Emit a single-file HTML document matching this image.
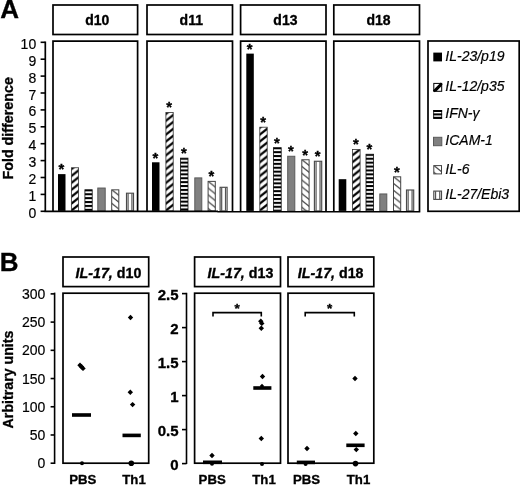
<!DOCTYPE html>
<html><head><meta charset="utf-8"><title>Figure</title>
<style>html,body{margin:0;padding:0;background:#fff;}body{width:520px;height:486px;overflow:hidden;}svg{display:block;filter:blur(0.35px);}text{font-family:"Liberation Sans",sans-serif;fill:#000;stroke:#000;stroke-width:0.18px;}text[font-weight="bold"]{stroke-width:0.32px;}</style>
</head><body>
<svg width="520" height="486" viewBox="0 0 520 486">
<defs>
<pattern id="p12" patternUnits="userSpaceOnUse" width="8.6" height="6.9"><rect width="8.6" height="6.9" fill="#fff"/><path d="M-8.6 13.8 L17.2 -6.9 M-8.6 6.9 L17.2 -13.8 M-8.6 20.7 L17.2 0" stroke="#000" stroke-width="2.15" fill="none"/></pattern>
<pattern id="pifn" patternUnits="userSpaceOnUse" width="10" height="3.9"><rect width="10" height="3.9" fill="#fff"/><rect y="0" width="10" height="2.05" fill="#000"/></pattern>
<pattern id="p6" patternUnits="userSpaceOnUse" width="8.6" height="6.8"><rect width="8.6" height="6.8" fill="#fff"/><path d="M-8.6 -6.8 L17.2 13.6 M-8.6 0 L17.2 20.4 M-8.6 -13.6 L17.2 6.8" stroke="#444" stroke-width="1.3" fill="none"/></pattern>
</defs>
<rect width="520" height="486" fill="#fff"/>
<text x="0.2" y="18.4" font-size="26" font-weight="bold">A</text>
<rect x="53" y="5" width="84.6" height="29.5" fill="#fff" stroke="#000" stroke-width="1.7"/>
<text x="97.2" y="25.1" font-size="14" font-weight="bold" text-anchor="middle">d10</text>
<path d="M53 211.3 V41.2 H137.6 V211.3" fill="none" stroke="#000" stroke-width="1.7"/>
<rect x="147" y="5" width="85.5" height="29.5" fill="#fff" stroke="#000" stroke-width="1.7"/>
<text x="191.3" y="25.1" font-size="14" font-weight="bold" text-anchor="middle">d11</text>
<path d="M147 211.3 V41.2 H232.5 V211.3" fill="none" stroke="#000" stroke-width="1.7"/>
<rect x="240.6" y="5" width="85.4" height="29.5" fill="#fff" stroke="#000" stroke-width="1.7"/>
<text x="285.4" y="25.1" font-size="14" font-weight="bold" text-anchor="middle">d13</text>
<path d="M240.6 211.3 V41.2 H326 V211.3" fill="none" stroke="#000" stroke-width="1.7"/>
<rect x="333.8" y="5" width="85.7" height="29.5" fill="#fff" stroke="#000" stroke-width="1.7"/>
<text x="378.5" y="25.1" font-size="14" font-weight="bold" text-anchor="middle">d18</text>
<path d="M333.8 211.3 V41.2 H419.5 V211.3" fill="none" stroke="#000" stroke-width="1.7"/>
<path d="M45.3 41.5 V211.3" stroke="#000" stroke-width="1.7" fill="none"/>
<path d="M40.6 211.30 H45.3" stroke="#000" stroke-width="1.6"/>
<text x="36.2" y="217.80" font-size="14" text-anchor="end">0</text>
<path d="M40.6 194.40 H45.3" stroke="#000" stroke-width="1.6"/>
<text x="36.2" y="200.90" font-size="14" text-anchor="end">1</text>
<path d="M40.6 177.50 H45.3" stroke="#000" stroke-width="1.6"/>
<text x="36.2" y="184.00" font-size="14" text-anchor="end">2</text>
<path d="M40.6 160.60 H45.3" stroke="#000" stroke-width="1.6"/>
<text x="36.2" y="167.10" font-size="14" text-anchor="end">3</text>
<path d="M40.6 143.70 H45.3" stroke="#000" stroke-width="1.6"/>
<text x="36.2" y="150.20" font-size="14" text-anchor="end">4</text>
<path d="M40.6 126.80 H45.3" stroke="#000" stroke-width="1.6"/>
<text x="36.2" y="133.30" font-size="14" text-anchor="end">5</text>
<path d="M40.6 109.90 H45.3" stroke="#000" stroke-width="1.6"/>
<text x="36.2" y="116.40" font-size="14" text-anchor="end">6</text>
<path d="M40.6 93.00 H45.3" stroke="#000" stroke-width="1.6"/>
<text x="36.2" y="99.50" font-size="14" text-anchor="end">7</text>
<path d="M40.6 76.10 H45.3" stroke="#000" stroke-width="1.6"/>
<text x="36.2" y="82.60" font-size="14" text-anchor="end">8</text>
<path d="M40.6 59.20 H45.3" stroke="#000" stroke-width="1.6"/>
<text x="36.2" y="65.70" font-size="14" text-anchor="end">9</text>
<path d="M40.6 42.30 H45.3" stroke="#000" stroke-width="1.6"/>
<text x="36.2" y="48.80" font-size="14" text-anchor="end">10</text>
<text transform="translate(13.0,128.3) rotate(-90)" font-size="14.3" font-weight="bold" text-anchor="middle">Fold difference</text>
<rect x="58.00" y="174.12" width="7.50" height="36.78" fill="#000"/>
<text x="61.45" y="174.46" font-size="14.8" font-weight="bold" text-anchor="middle">*</text>
<g transform="translate(71.00,210.90)"><rect x="0.4" y="-43.14" width="7.20" height="43.14" fill="url(#p12)" stroke="#333" stroke-width="0.8"/></g>
<g transform="translate(84.50,189.33)"><rect x="0.4" y="0.4" width="7.30" height="21.17" fill="url(#pifn)" stroke="#111" stroke-width="0.8"/></g>
<rect x="97.80" y="188.04" width="7.40" height="22.86" fill="#808080" stroke="#5a5a5a" stroke-width="1"/>
<g transform="translate(111.20,189.33)"><rect x="0.5" y="0.5" width="7.10" height="21.07" fill="url(#p6)" stroke="#444" stroke-width="1"/></g>
<rect x="126.50" y="193.21" width="7.00" height="17.69" fill="#fff" stroke="#4a4a4a" stroke-width="1.15"/><path d="M128.08 193.21 V210.90" stroke="#555" stroke-width="1.2"/><path d="M131.92 193.21 V210.90" stroke="#555" stroke-width="1.2"/>
<rect x="152.00" y="162.29" width="7.50" height="48.61" fill="#000"/>
<text x="155.45" y="162.63" font-size="14.8" font-weight="bold" text-anchor="middle">*</text>
<g transform="translate(165.50,210.90)"><rect x="0.4" y="-98.40" width="7.30" height="98.40" fill="url(#p12)" stroke="#333" stroke-width="0.8"/></g>
<text x="169.25" y="112.44" font-size="14.8" font-weight="bold" text-anchor="middle">*</text>
<g transform="translate(180.00,157.73)"><rect x="0.4" y="0.4" width="7.60" height="52.77" fill="url(#pifn)" stroke="#111" stroke-width="0.8"/></g>
<text x="183.90" y="158.07" font-size="14.8" font-weight="bold" text-anchor="middle">*</text>
<rect x="194.80" y="177.90" width="7.00" height="33.00" fill="#808080" stroke="#5a5a5a" stroke-width="1"/>
<g transform="translate(207.60,180.88)"><rect x="0.5" y="0.5" width="7.20" height="29.52" fill="url(#p6)" stroke="#444" stroke-width="1"/></g>
<text x="211.40" y="181.22" font-size="14.8" font-weight="bold" text-anchor="middle">*</text>
<rect x="220.10" y="187.30" width="7.00" height="23.60" fill="#fff" stroke="#4a4a4a" stroke-width="1.15"/><path d="M221.68 187.30 V210.90" stroke="#555" stroke-width="1.2"/><path d="M225.52 187.30 V210.90" stroke="#555" stroke-width="1.2"/>
<rect x="246.30" y="53.62" width="7.50" height="157.28" fill="#000"/>
<text x="249.75" y="53.97" font-size="14.8" font-weight="bold" text-anchor="middle">*</text>
<g transform="translate(259.40,210.90)"><rect x="0.4" y="-83.70" width="7.40" height="83.70" fill="url(#p12)" stroke="#333" stroke-width="0.8"/></g>
<text x="263.20" y="127.14" font-size="14.8" font-weight="bold" text-anchor="middle">*</text>
<g transform="translate(273.00,147.25)"><rect x="0.4" y="0.4" width="7.80" height="63.25" fill="url(#pifn)" stroke="#111" stroke-width="0.8"/></g>
<text x="277.00" y="147.59" font-size="14.8" font-weight="bold" text-anchor="middle">*</text>
<rect x="287.70" y="156.27" width="7.10" height="54.63" fill="#808080" stroke="#5a5a5a" stroke-width="1"/>
<text x="290.95" y="156.21" font-size="14.8" font-weight="bold" text-anchor="middle">*</text>
<g transform="translate(301.30,159.25)"><rect x="0.5" y="0.5" width="7.30" height="51.15" fill="url(#p6)" stroke="#444" stroke-width="1"/></g>
<text x="305.15" y="159.59" font-size="14.8" font-weight="bold" text-anchor="middle">*</text>
<rect x="314.40" y="161.27" width="7.30" height="49.63" fill="#fff" stroke="#4a4a4a" stroke-width="1.15"/><path d="M316.06 161.27 V210.90" stroke="#555" stroke-width="1.2"/><path d="M320.04 161.27 V210.90" stroke="#555" stroke-width="1.2"/>
<text x="317.75" y="161.11" font-size="14.8" font-weight="bold" text-anchor="middle">*</text>
<rect x="338.70" y="179.19" width="7.60" height="31.71" fill="#000"/>
<g transform="translate(352.00,210.90)"><rect x="0.4" y="-61.39" width="7.70" height="61.39" fill="url(#p12)" stroke="#333" stroke-width="0.8"/></g>
<text x="355.95" y="149.45" font-size="14.8" font-weight="bold" text-anchor="middle">*</text>
<g transform="translate(365.60,153.84)"><rect x="0.4" y="0.4" width="7.60" height="56.66" fill="url(#pifn)" stroke="#111" stroke-width="0.8"/></g>
<text x="369.50" y="154.18" font-size="14.8" font-weight="bold" text-anchor="middle">*</text>
<rect x="379.80" y="193.96" width="7.00" height="16.95" fill="#808080" stroke="#5a5a5a" stroke-width="1"/>
<g transform="translate(393.00,176.32)"><rect x="0.5" y="0.5" width="7.20" height="34.08" fill="url(#p6)" stroke="#444" stroke-width="1"/></g>
<text x="396.80" y="176.66" font-size="14.8" font-weight="bold" text-anchor="middle">*</text>
<rect x="406.50" y="190.00" width="7.20" height="20.90" fill="#fff" stroke="#4a4a4a" stroke-width="1.15"/><path d="M408.13 190.00 V210.90" stroke="#555" stroke-width="1.2"/><path d="M412.07 190.00 V210.90" stroke="#555" stroke-width="1.2"/>
<path d="M44.5 211.3 H218" stroke="#000" stroke-width="1.7"/>
<path d="M217.6 211.75 H420.3" stroke="#000" stroke-width="1.7"/>
<rect x="428" y="41" width="91.2" height="170.3" fill="#fff" stroke="#000" stroke-width="1.7"/>
<text x="445.3" y="61" font-size="14" font-style="italic">IL-23/p19</text>
<rect x="433.30" y="52.60" width="8.70" height="8.80" fill="#000"/>
<text x="445.3" y="91.3" font-size="14" font-style="italic">IL-12/p35</text>
<g transform="translate(433.3,82.89999999999999)"><rect x="0.5" y="0.5" width="7.9" height="7.9" fill="#fff" stroke="#000" stroke-width="1"/><path d="M0.5 8.4 L8.4 0.5 L8.4 3.2 L3.2 8.4 Z" fill="#000"/><path d="M0.5 8.4 L8.4 0.5" stroke="#000" stroke-width="2.6"/></g>
<text x="445.3" y="118.4" font-size="14" font-style="italic">IFN-γ</text>
<g transform="translate(433.3,110.0)"><rect x="0" y="0" width="8.8" height="8.8" fill="#fff"/><rect x="0" y="0" width="8.8" height="2" fill="#000"/><rect x="0" y="3.4" width="8.8" height="2" fill="#000"/><rect x="0" y="6.8" width="8.8" height="2" fill="#000"/><rect x="0.4" y="0.4" width="8" height="8" fill="none" stroke="#000" stroke-width="0.8"/></g>
<text x="445.3" y="145.3" font-size="14" font-style="italic">ICAM-1</text>
<rect x="433.50" y="137.30" width="8.30" height="8.40" fill="#808080" stroke="#5a5a5a" stroke-width="1"/>
<text x="445.3" y="173.5" font-size="14" font-style="italic">IL-6</text>
<g transform="translate(433.30,165.10)"><rect x="0.5" y="0.5" width="7.70" height="8.30" fill="url(#p6)" stroke="#444" stroke-width="1"/></g>
<text x="445.3" y="199" font-size="14" font-style="italic">IL-27/Ebi3</text>
<rect x="433.80" y="191.10" width="7.70" height="8.30" fill="#fff" stroke="#4a4a4a" stroke-width="1.15"/><path d="M435.56 191.10 V199.40" stroke="#555" stroke-width="1.2"/><path d="M439.74 191.10 V199.40" stroke="#555" stroke-width="1.2"/>
<text x="-0.2" y="271.2" font-size="26" font-weight="bold">B</text>
<rect x="63" y="257" width="85.7" height="29.6" fill="#fff" stroke="#000" stroke-width="1.7"/>
<text x="75.6" y="277.7" font-size="14.25" font-weight="bold"><tspan font-style="italic">IL-17,</tspan> d10</text>
<rect x="63" y="293.2" width="85.7" height="170.0" fill="#fff" stroke="#000" stroke-width="1.7"/>
<rect x="194.6" y="257" width="85.9" height="29.6" fill="#fff" stroke="#000" stroke-width="1.7"/>
<text x="207.6" y="277.7" font-size="14.25" font-weight="bold"><tspan font-style="italic">IL-17,</tspan> d13</text>
<rect x="194.6" y="293.2" width="85.9" height="170.0" fill="#fff" stroke="#000" stroke-width="1.7"/>
<rect x="288" y="257" width="85.8" height="29.6" fill="#fff" stroke="#000" stroke-width="1.7"/>
<text x="297.8" y="277.7" font-size="14.25" font-weight="bold"><tspan font-style="italic">IL-17,</tspan> d18</text>
<rect x="288" y="293.2" width="85.8" height="170.0" fill="#fff" stroke="#000" stroke-width="1.7"/>
<path d="M54.6 292.6 V464.0" stroke="#000" stroke-width="1.6"/>
<path d="M50.6 463.20 H54.6" stroke="#000" stroke-width="1.6"/>
<text x="45.3" y="468.30" font-size="14" text-anchor="end">0</text>
<path d="M50.6 434.98 H54.6" stroke="#000" stroke-width="1.6"/>
<text x="45.3" y="440.08" font-size="14" text-anchor="end">50</text>
<path d="M50.6 406.76 H54.6" stroke="#000" stroke-width="1.6"/>
<text x="45.3" y="411.86" font-size="14" text-anchor="end">100</text>
<path d="M50.6 378.54 H54.6" stroke="#000" stroke-width="1.6"/>
<text x="45.3" y="383.64" font-size="14" text-anchor="end">150</text>
<path d="M50.6 350.32 H54.6" stroke="#000" stroke-width="1.6"/>
<text x="45.3" y="355.42" font-size="14" text-anchor="end">200</text>
<path d="M50.6 322.10 H54.6" stroke="#000" stroke-width="1.6"/>
<text x="45.3" y="327.20" font-size="14" text-anchor="end">250</text>
<path d="M50.6 293.88 H54.6" stroke="#000" stroke-width="1.6"/>
<text x="45.3" y="298.98" font-size="14" text-anchor="end">300</text>
<text transform="translate(12.8,379.5) rotate(-90)" font-size="14.2" font-weight="bold" text-anchor="middle">Arbitrary units</text>
<path d="M186.5 292.8 V464.0" stroke="#000" stroke-width="1.6"/>
<path d="M182 463.60 H186.5" stroke="#000" stroke-width="1.6"/>
<text x="178.6" y="470.20" font-size="15" font-weight="bold" text-anchor="end">0</text>
<path d="M182 429.60 H186.5" stroke="#000" stroke-width="1.6"/>
<text x="178.6" y="436.20" font-size="15" font-weight="bold" text-anchor="end">0.5</text>
<path d="M182 395.60 H186.5" stroke="#000" stroke-width="1.6"/>
<text x="178.6" y="402.20" font-size="15" font-weight="bold" text-anchor="end">1</text>
<path d="M182 361.60 H186.5" stroke="#000" stroke-width="1.6"/>
<text x="178.6" y="368.20" font-size="15" font-weight="bold" text-anchor="end">1.5</text>
<path d="M182 327.60 H186.5" stroke="#000" stroke-width="1.6"/>
<text x="178.6" y="334.20" font-size="15" font-weight="bold" text-anchor="end">2</text>
<path d="M182 293.60 H186.5" stroke="#000" stroke-width="1.6"/>
<text x="178.6" y="300.20" font-size="15" font-weight="bold" text-anchor="end">2.5</text>
<text x="69.3" y="484.3" font-size="13.2" font-weight="bold">PBS</text>
<text x="122.3" y="484.3" font-size="13.2" font-weight="bold">Th1</text>
<text x="198.6" y="484.3" font-size="13.2" font-weight="bold">PBS</text>
<text x="252.3" y="484.3" font-size="13.2" font-weight="bold">Th1</text>
<text x="293" y="484.3" font-size="13.2" font-weight="bold">PBS</text>
<text x="346.8" y="484.3" font-size="13.2" font-weight="bold">Th1</text>
<path d="M80.00 362.50 L82.70 365.20 L80.00 367.90 L77.30 365.20 Z" fill="#000"/><path d="M81.50 364.10 L84.20 366.80 L81.50 369.50 L78.80 366.80 Z" fill="#000"/><path d="M83.00 365.70 L85.70 368.40 L83.00 371.10 L80.30 368.40 Z" fill="#000"/>
<rect x="72.00" y="413.20" width="19.00" height="3.6" fill="#000"/>
<circle cx="82" cy="463.2" r="2.0" fill="#000"/>
<path d="M130.50 314.80 L133.20 317.50 L130.50 320.20 L127.80 317.50 Z" fill="#000"/><path d="M130.30 389.60 L133.00 392.30 L130.30 395.00 L127.60 392.30 Z" fill="#000"/><path d="M132.60 401.90 L135.30 404.60 L132.60 407.30 L129.90 404.60 Z" fill="#000"/>
<rect x="122.50" y="433.60" width="18.30" height="3.6" fill="#000"/>
<circle cx="131.3" cy="463.2" r="2.8" fill="#000"/>
<path d="M212.00 452.80 L214.70 455.50 L212.00 458.20 L209.30 455.50 Z" fill="#000"/><rect x="203.00" y="460.50" width="19.00" height="3.6" fill="#000"/><circle cx="212" cy="463.8" r="2.0" fill="#000"/>
<path d="M260.80 318.60 L263.50 321.30 L260.80 324.00 L258.10 321.30 Z" fill="#000"/><path d="M261.80 320.70 L264.50 323.40 L261.80 326.10 L259.10 323.40 Z" fill="#000"/><path d="M261.30 325.50 L264.00 328.20 L261.30 330.90 L258.60 328.20 Z" fill="#000"/>
<path d="M262.50 373.80 L265.20 376.50 L262.50 379.20 L259.80 376.50 Z" fill="#000"/><rect x="253.30" y="386.20" width="18.10" height="3.6" fill="#000"/><path d="M262.00 383.80 L264.20 386.00 L262.00 388.20 L259.80 386.00 Z" fill="#000"/><path d="M261.30 435.80 L264.00 438.50 L261.30 441.20 L258.60 438.50 Z" fill="#000"/><circle cx="262" cy="464" r="2.0" fill="#000"/>
<path d="M213 316.6 V312.6 H261.3 V316.6" fill="none" stroke="#000" stroke-width="1.6"/>
<text x="237.20" y="313.35" font-size="13.5" font-weight="bold" text-anchor="middle">*</text>
<path d="M307.00 445.80 L309.70 448.50 L307.00 451.20 L304.30 448.50 Z" fill="#000"/><rect x="296.80" y="460.60" width="18.20" height="3.6" fill="#000"/><circle cx="305.6" cy="464" r="2.0" fill="#000"/>
<path d="M355.00 375.80 L357.70 378.50 L355.00 381.20 L352.30 378.50 Z" fill="#000"/><path d="M355.80 430.80 L358.50 433.50 L355.80 436.20 L353.10 433.50 Z" fill="#000"/><rect x="346.30" y="443.50" width="18.30" height="3.6" fill="#000"/><path d="M356.30 446.90 L359.00 449.60 L356.30 452.30 L353.60 449.60 Z" fill="#000"/><circle cx="355.5" cy="463.6" r="2.8" fill="#000"/>
<path d="M305.2 316.6 V312.6 H354.3 V316.6" fill="none" stroke="#000" stroke-width="1.6"/>
<text x="329.60" y="313.05" font-size="13.5" font-weight="bold" text-anchor="middle">*</text>
</svg></body></html>
